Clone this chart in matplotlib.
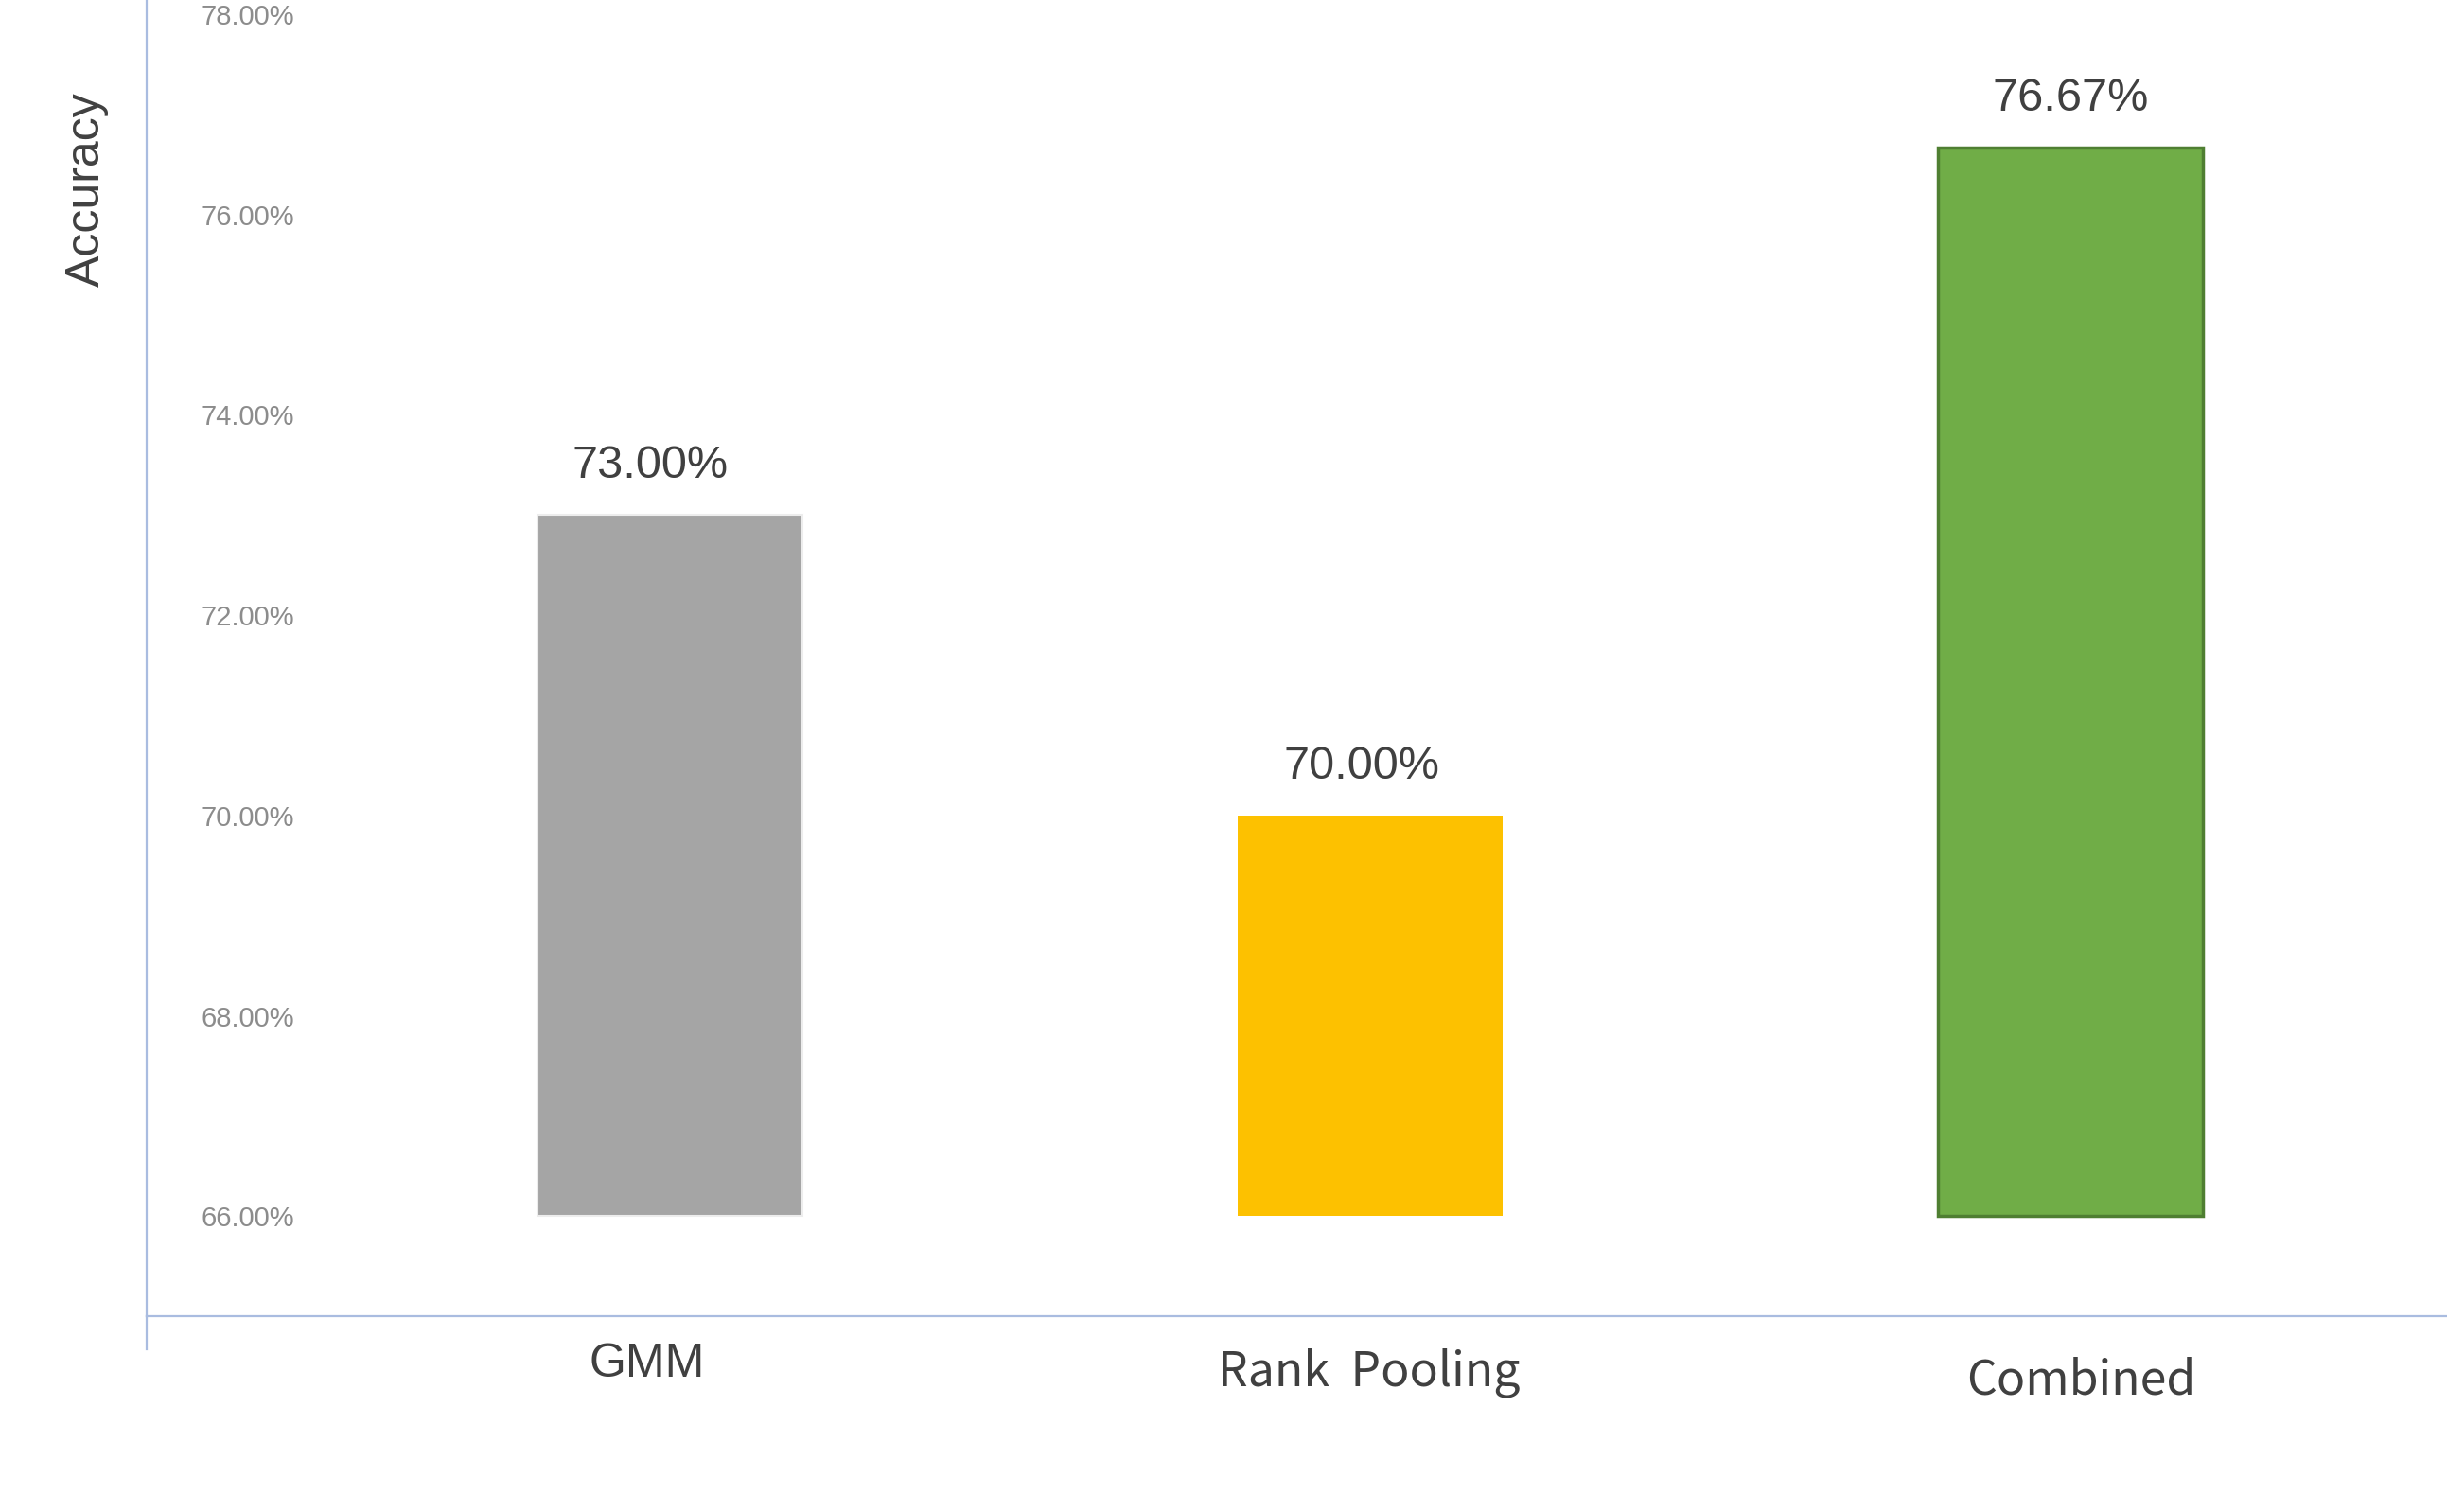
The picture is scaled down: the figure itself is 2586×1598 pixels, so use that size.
import matplotlib.pyplot as plt

# data
methods = ["GMM", "Rank  Pooling", "Combined"]
accuracy = [73.00, 70.00, 76.67]
value_labels = ["73.00%", "70.00%", "76.67%"]
yticks = [66, 68, 70, 72, 74, 76, 78]
ytick_labels = ["66.00%", "68.00%", "70.00%", "72.00%", "74.00%", "76.00%", "78.00%"]

bar_colors = ["#A5A5A5", "#FDC100", "#70AD47"]
edge_colors = ["#EDEDED", "#FDC100", "#4F7F32"]
edge_widths = [1.5, 0, 2.5]
label_fonts = ["Liberation Sans", "Noto Sans CJK SC", "Noto Sans CJK SC"]
# small hand placement offsets (points) to mimic the original layout
value_dx = [-15, -6, 0]
cat_dx = [-17, -1, 8]
cat_dy = [-46, -52.6, -59]
base = 66
spine_color = "#A9BCE0"
text_color = "#404040"

fig = plt.figure(figsize=(25.86, 15.98), dpi=100)
ax = fig.add_axes([0.0599, 0.1295, 0.9401, 0.8705])

x = list(range(len(methods)))
heights = [v - base for v in accuracy]
ax.bar(x, heights, bottom=base, width=0.378, color=bar_colors,
       edgecolor=edge_colors, linewidth=edge_widths, zorder=2)

# value labels above bars
for xi, v, lab, dx in zip(x, accuracy, value_labels, value_dx):
	ax.annotate(lab, (xi, v), xytext=(dx, 28), textcoords="offset points",
				ha="center", va="baseline", fontsize=35, color=text_color,
				family="Liberation Sans")

ax.set_xlim(-0.747, 2.538)
ax.set_ylim(65, 78.142)

# y ticks drawn inside the axes
ax.set_yticks(yticks)
ax.set_yticklabels(ytick_labels, fontsize=21, color="#8C8C8C",
				   family="Liberation Sans", ha="left")
ax.tick_params(axis="y", length=0, pad=-41.8)

# category labels under the bottom axis
ax.set_xticks([])
trans = ax.get_xaxis_transform()
for xi, name, f, dx, dy in zip(x, methods, label_fonts, cat_dx, cat_dy):
	ax.annotate(name, (xi, 0), xycoords=trans, xytext=(dx, dy),
				textcoords="offset points", ha="center", va="baseline",
				fontsize=36, color=text_color, family=f, annotation_clip=False)

ax.set_ylabel("Accuracy", fontsize=36, color=text_color, family="Liberation Sans")
ax.yaxis.set_label_coords(-0.0165, 0.856)

for s in ["top", "right"]:
	ax.spines[s].set_visible(False)
for s in ["left", "bottom"]:
	ax.spines[s].set_color(spine_color)
	ax.spines[s].set_linewidth(1.6)

# left axis line runs a bit below the bottom axis
ax.plot([0, 0], [0, -35 / 1391], transform=ax.transAxes, color=spine_color,
		linewidth=1.6, clip_on=False)

fig.savefig("out.png", dpi=100)
